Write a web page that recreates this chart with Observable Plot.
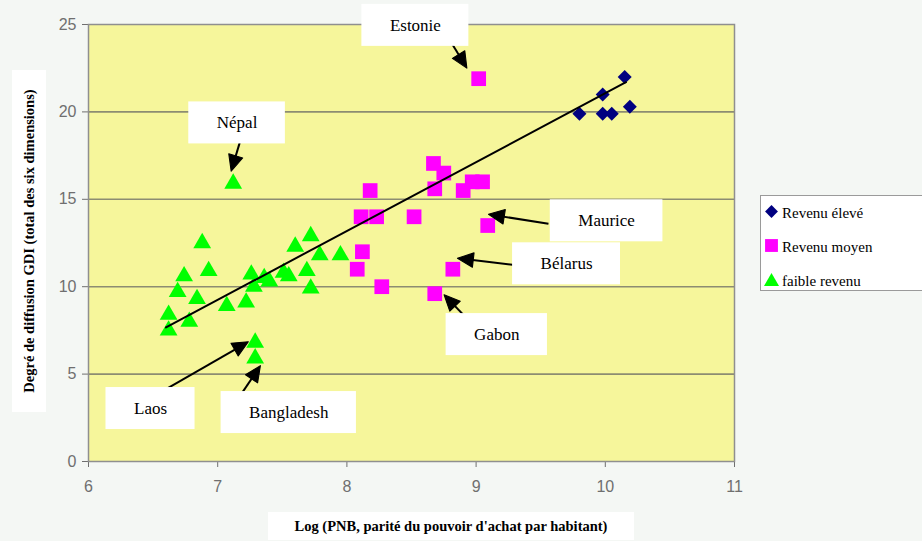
<!DOCTYPE html>
<html><head><meta charset="utf-8">
<script src="https://cdn.jsdelivr.net/npm/d3@7"></script>
<script src="https://cdn.jsdelivr.net/npm/@observablehq/plot@0.6"></script>
<style>
body{margin:0;background:#f4f7f4;}
#wrap{position:relative;width:922px;height:541px;overflow:hidden;background:#f4f7f4;}
#legend{position:absolute;left:760px;top:195px;width:164px;height:96px;background:#fff;border:1.5px solid #9a9a9a;box-sizing:border-box;font-family:"Times New Roman","Liberation Serif",serif;font-size:15px;color:#000;}
#legend .row{position:absolute;left:0;height:20px;}
#legend svg{position:absolute;left:3px;top:0;}
#legend span{position:absolute;left:21px;top:1px;white-space:nowrap;}
</style></head><body><div id="wrap"></div><script>
// ---- data ----
const categories = ["Revenu élevé", "Revenu moyen", "faible revenu"];
const highIncome = [[9.80,19.9],[9.98,21.0],[10.15,22.0],[10.19,20.3],[9.98,19.9],[10.05,19.9]];
const middleIncome = [[9.02,21.9],[8.67,17.05],[8.75,16.5],[8.68,15.6],[8.18,15.5],[8.90,15.5],[8.97,16.0],[9.05,16.0],
  [8.11,14.0],[8.23,14.0],[8.52,14.0],[9.09,13.5],[8.12,12.0],[8.08,11.0],[8.82,11.0],[8.27,10.0],[8.68,9.6]];
const lowIncome = [[7.12,15.9],[6.88,12.5],[7.72,12.9],[7.60,12.3],[7.79,11.8],[7.95,11.8],[6.93,10.9],[6.74,10.6],
  [7.26,10.7],[7.36,10.5],[7.40,10.3],[7.51,10.8],[7.55,10.6],[7.69,10.9],[7.72,9.9],[7.28,10.0],[6.69,9.7],
  [6.84,9.3],[7.07,8.9],[7.22,9.1],[6.62,8.4],[6.78,8.0],[6.62,7.5],[7.29,6.8],[7.29,5.9]];
const trendX = [6.60, 10.16];
const trendY = [7.67, 21.7];
const xTicks = [6, 7, 8, 9, 10, 11];
const yTicks = [0, 5, 10, 15, 20, 25];
const gridY = [5, 10, 15, 20];
const annLabels = ["Estonie", "Népal", "Maurice", "Bélarus", "Gabon", "Laos", "Bangladesh"];
const annX = [8.53, 7.15, 10.01, 9.70, 9.16, 6.48, 7.55];
const annY = [24.95, 19.37, 13.77, 11.31, 7.26, 3.03, 2.8];
const arrowX1 = [8.81, 7.17, 9.56, 9.35, 8.90, 6.58, 7.19];
const arrowY1 = [23.94, 18.23, 13.6, 11.2, 8.4, 4.06, 3.94];
const arrowX2 = [8.90, 7.12, 9.15, 8.91, 8.79, 7.19, 7.30];
const arrowY2 = [22.85, 17.0, 14.08, 11.58, 9.25, 6.65, 5.15];
const xLabel = "Log (PNB, parité du pouvoir d'achat par habitant)";
const yLabel = "Degré de diffusion GDI (total des six dimensions)";

// ---- build ----
const toObj = a => a.map(([x, y]) => ({x, y}));
const high = toObj(highIncome), mid = toObj(middleIncome), low = toObj(lowIncome);
const trend = trendX.map((x, i) => ({x, y: trendY[i]}));
const anns = annLabels.map((label, i) => ({label, x: annX[i], y: annY[i]}));
const arrows = arrowX1.map((x1, i) => ({x1, y1: arrowY1[i], x2: arrowX2[i], y2: arrowY2[i]}));

const serif = "'Times New Roman','Liberation Serif',serif";
const ctx = document.createElement("canvas").getContext("2d");
ctx.font = "17px " + serif;

const boxMarks = anns.map(a => {
  const w = ctx.measureText(a.label).width + 56;
  const h = 42;
  return Plot.rect([a], {x1: "x", x2: "x", y1: "y", y2: "y", fill: "white",
    insetLeft: -w / 2, insetRight: -w / 2, insetTop: -h / 2, insetBottom: -h / 2});
});

const colors = ["#000080", "#ff00ff", "#00ff00"];

const chart = Plot.plot({
  width: 922, height: 541,
  marginLeft: 88, marginRight: 188, marginTop: 24, marginBottom: 80,
  style: {background: "transparent", fontFamily: "'Liberation Sans Narrow','Liberation Sans',Arial,sans-serif", fontSize: "16px", color: "#6f6f6f", overflow: "visible"},
  x: {domain: [6, 11], ticks: xTicks, tickFormat: d3.format("d"), tickSize: 6, tickPadding: 13, label: null},
  y: {domain: [0, 25], ticks: yTicks, tickFormat: d3.format("d"), tickSize: 6, tickPadding: 6, label: null},
  marks: [
    Plot.frame({fill: "#f6f69b", stroke: "none"}),
    Plot.ruleY(gridY, {stroke: "#8c8c72", strokeWidth: 1.6}),
    Plot.frame({stroke: "#8f8f8f", strokeWidth: 1.5}),
    Plot.dot(low, {x: "x", y: "y", symbol: "triangle", r: 6.6, fill: colors[2]}),
    Plot.dot(mid, {x: "x", y: "y", symbol: "square", r: 8.3, fill: colors[1]}),
    Plot.dot(high, {x: "x", y: "y", symbol: "diamond2", r: 6.3, fill: colors[0]}),
    Plot.line(trend, {x: "x", y: "y", stroke: "black", strokeWidth: 2}),
    Plot.link(arrows, {x1: "x1", y1: "y1", x2: "x2", y2: "y2", stroke: "black", strokeWidth: 2, markerEnd: "arrow"}),
    ...boxMarks,
    Plot.text(anns, {x: "x", y: "y", text: "label", fill: "black", fontFamily: serif, fontSize: 17})
  ]
});

// filled arrowheads
d3.select(chart).selectAll("marker").attr("markerWidth", 11).attr("markerHeight", 11)
  .selectAll("path").attr("d", "M-4,-3.3L3.2,0L-4,3.3Z").attr("fill", "black").attr("stroke", "black").attr("stroke-width", 0.5);

// axis titles
const svg = d3.select(chart);
const xl = svg.append("g");
xl.append("rect").attr("x", 268).attr("y", 512).attr("width", 366).attr("height", 28).attr("fill", "white");
xl.append("text").attr("x", 451).attr("y", 531).attr("text-anchor", "middle")
  .attr("font-family", serif).attr("font-weight", "bold").attr("font-size", 14.5)
  .attr("fill", "black").text(xLabel);
const yl = svg.append("g");
yl.append("rect").attr("x", 12).attr("y", 70).attr("width", 34).attr("height", 342).attr("fill", "white");
yl.append("text").attr("transform", "translate(34,241) rotate(-90)").attr("text-anchor", "middle")
  .attr("font-family", serif).attr("font-weight", "bold").attr("font-size", 14.5)
  .attr("fill", "black").text(yLabel);

const wrap = document.getElementById("wrap");
wrap.appendChild(chart);

// legend
const legend = document.createElement("div");
legend.id = "legend";
const symPaths = [
  "M7,1L13,7L7,13L1,7Z",
  "M1,1H13V13H1Z",
  "M7,1L14,13H0Z"
];
const rowTops = [8, 42, 76];
categories.forEach((c, i) => {
  const row = document.createElement("div");
  row.className = "row";
  row.style.top = rowTops[i] + "px";
  row.innerHTML = `<svg width="15" height="15" viewBox="0 0 14 14"><path d="${symPaths[i]}" fill="${colors[i]}"/></svg><span>${c}</span>`;
  legend.appendChild(row);
});
wrap.appendChild(legend);
</script></body></html>
